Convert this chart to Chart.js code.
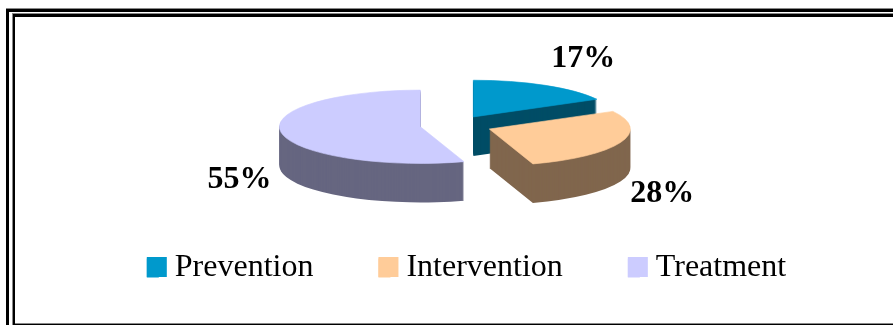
<!DOCTYPE html>
<html lang="en">
<head>
    <meta charset="UTF-8">
    <title>Prevention, intervention, treatment</title>
    <script src="https://cdn.jsdelivr.net/npm/chart.js@4.4.1/dist/chart.umd.min.js"></script>
    <style>
        html, body {
            margin: 0;
            width: 893px;
            height: 325px;
            overflow: hidden;
            background: #fff;
        }

        .line {
            position: absolute;
            background: #000;
        }

        .soft {
            background: #888;
        }
    </style>
</head>
<body>
<canvas id="myChart" width="893" height="294" style="position:absolute;left:0;top:0"></canvas>

<!-- double frame, open on the right -->
<div class="line soft" style="left:6px;top:8px;width:887px;height:1px"></div>
<div class="line" style="left:6px;top:9px;width:887px;height:3px"></div>
<div class="line" style="left:6px;top:9px;width:3px;height:316px"></div>
<div class="line soft" style="left:12px;top:13px;width:881px;height:1px"></div>
<div class="line soft" style="left:12px;top:13px;width:1px;height:312px"></div>
<div class="line" style="left:13px;top:14px;width:880px;height:3px"></div>
<div class="line" style="left:13px;top:14px;width:2px;height:311px"></div>
<div class="line soft" style="left:15px;top:323px;width:878px;height:1px"></div>
<div class="line" style="left:13px;top:324px;width:880px;height:1px"></div>

<script>
    const categories = ['Prevention', 'Intervention', 'Treatment']
    const values = [17, 28, 55]
    const topColors = ['#0099CC', '#FFCC99', '#CCCCFF']
    const sideColors = ['#004D66', '#80664D', '#666680']

    // look of the tilted pie, all in pixels except squash
    const pie = {
        x: 454,
        y: 125.4,
        squash: 0.26,
        depth: 39,
        explode: [38, 38, 34],
        labelShift: [[110, -58], [173, 65], [-181, 53]]
    }

    const serif = "'Liberation Serif', 'Times New Roman', serif"

    // shift one slice out along its middle angle, then flatten it
    function placeSlice(ctx, arc, i, drop) {
        const mid = (arc.startAngle + arc.endAngle) / 2
        ctx.translate(pie.x, pie.y + drop + Math.sin(mid) * pie.explode[i] * pie.squash)
        ctx.translate(Math.cos(mid) * pie.explode[i], 0)
        ctx.scale(1, pie.squash)
        ctx.translate(-arc.x, -arc.y)
    }

    const tiltedPie = {
        id: 'tiltedPie',
        beforeDatasetsDraw(chart) {
            const ctx = chart.ctx
            chart.getDatasetMeta(0).data.forEach((arc, i) => {
                const baseOptions = arc.options

                arc.options = Object.assign({}, baseOptions, {backgroundColor: sideColors[i]})
                for (let drop = pie.depth; drop > 0; drop--) {
                    ctx.save()
                    placeSlice(ctx, arc, i, drop)
                    arc.draw(ctx)
                    ctx.restore()
                }

                // thin border of the same colour hides the dark fringe under the top face
                arc.options = Object.assign({}, baseOptions, {borderWidth: 1, borderColor: topColors[i]})
                ctx.save()
                placeSlice(ctx, arc, i, 0)
                arc.draw(ctx)
                ctx.restore()
                arc.options = baseOptions
            })

            // percent labels sit off each slice's own apex
            ctx.save()
            ctx.font = 'bold 32px ' + serif
            ctx.fillStyle = '#000'
            ctx.textAlign = 'center'
            ctx.textBaseline = 'middle'
            chart.getDatasetMeta(0).data.forEach((arc, i) => {
                const mid = (arc.startAngle + arc.endAngle) / 2
                const apexX = pie.x + Math.cos(mid) * pie.explode[i]
                const apexY = pie.y + Math.sin(mid) * pie.explode[i] * pie.squash
                ctx.fillText(values[i] + '%', apexX + pie.labelShift[i][0], apexY + pie.labelShift[i][1])
            })
            ctx.restore()
            return false
        },
        // built-in swatch is narrow to keep the text close, widen it here
        afterDraw(chart) {
            const ctx = chart.ctx
            chart.legend.legendHitBoxes.forEach((box, i) => {
                ctx.fillStyle = topColors[i]
                ctx.fillRect(box.left, box.top + (box.height - 20) / 2 - 1, 20, 20)
            })
        }
    }

    new Chart(document.getElementById('myChart'), {
        type: 'pie',
        data: {
            labels: categories,
            datasets: [{
                data: values,
                backgroundColor: topColors,
                borderWidth: 0,
                radius: 141
            }]
        },
        options: {
            responsive: false,
            animation: false,
            layout: {padding: {left: 40}},
            plugins: {
                tooltip: {enabled: false},
                legend: {
                    position: 'bottom',
                    labels: {
                        color: '#000',
                        boxWidth: 12,
                        boxHeight: 19,
                        padding: 65,
                        font: {family: serif, size: 32}
                    }
                }
            }
        },
        plugins: [tiltedPie]
    })
</script>
</body>
</html>
